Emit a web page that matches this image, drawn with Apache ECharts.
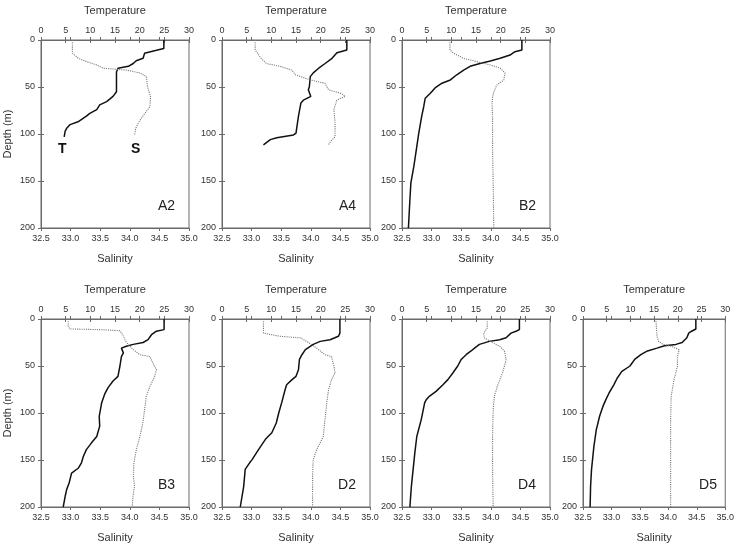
<!DOCTYPE html>
<html>
<head>
<meta charset="utf-8">
<script src="https://cdn.jsdelivr.net/npm/echarts@6/dist/echarts.min.js"></script>
<style>html,body{margin:0;padding:0;background:#fff;}#c{width:737px;height:544px;}</style>
</head>
<body>
<div id="c"></div>
<script>
// Tick values
const tempTicks = [0, 5, 10, 15, 20, 25, 30];
const salTicks = [32.5, 33.0, 33.5, 34.0, 34.5, 35.0];
const depthTicks = [0, 50, 100, 150, 200];
const panelNames = ['A2', 'A4', 'B2', 'B3', 'D2', 'D4', 'D5'];

// [temperature, depth]
const A2_T = [[24.9,0],[24.9,9],[23.4,11],[21.0,14],[20.7,19.5],[19.3,22],[18.7,25],[17.7,28],[15.6,30],[15.3,34],[15.3,42],[15.3,55],[14.6,60],[13.3,65.5],[11.9,69],[11.3,74],[9.9,78],[9.2,81],[7.5,87],[5.9,90],[5.5,92],[5.2,94],[4.9,97],[4.7,103]];
// [salinity, depth]
const A2_S = [[33.03,0],[33.03,14],[33.13,19.5],[33.27,23],[33.44,26.5],[33.55,30],[33.94,32],[34.17,35],[34.28,39],[34.30,50],[34.35,60],[34.34,71],[34.22,81],[34.14,88.5],[34.10,94],[34.08,101]];

const A4_T = [[25.3,0],[25.3,10.6],[23.3,13.5],[22.3,19.5],[20.9,25],[19.6,30],[18.5,35],[17.9,39],[17.7,50],[17.5,53],[18.0,60],[16.5,64],[16.0,67],[15.5,81],[15.0,99],[14.5,101],[11.1,104],[9.8,106],[8.4,111.5]];
const A4_S = [[33.06,0],[33.06,10.6],[33.16,19.5],[33.25,25],[33.48,28],[33.68,32],[33.74,37],[33.99,42.5],[34.24,46],[34.30,53],[34.52,57],[34.58,60],[34.44,64],[34.39,74],[34.41,88.5],[34.41,103],[34.33,108],[34.30,111.5]];

const B2_T = [[24.3,0],[24.3,10.6],[22.9,12.4],[21.9,16],[19.9,19.5],[17.9,22.3],[15.8,25],[13.8,28],[12.5,32],[11.1,37],[9.8,42.5],[8.1,46],[6.7,51],[5.7,57],[4.7,62],[4.4,71],[4.0,81],[3.4,99],[2.9,117],[2.4,134.5],[1.8,152],[1.6,170],[1.3,200]];
const B2_S = [[33.31,0],[33.31,10.6],[33.37,14],[33.54,19.5],[33.76,23],[33.99,26.5],[34.16,30],[34.24,35],[34.22,42.5],[34.10,48],[34.04,57],[34.02,67],[34.03,81],[34.03,117],[34.04,152],[34.05,200]];

const B3_T = [[24.95,0],[24.95,11.3],[23.4,13],[22.4,16.7],[21.7,22],[20.7,25],[18.7,27],[17.3,29],[16.3,31],[16.1,32.6],[16.7,36],[16.3,40],[16.0,50],[15.6,61],[14.6,66],[13.6,73],[12.9,80],[12.3,89],[11.8,103.5],[11.9,114],[11.3,125],[10.2,132],[9.2,139],[8.6,146],[8.2,153],[7.6,158.5],[6.2,164],[5.7,174.5],[5.2,181.5],[4.9,188.6],[4.5,200]];
const B3_S = [[32.96,0],[32.96,7.8],[32.99,10.6],[33.49,11.3],[33.83,12.4],[33.88,16.7],[33.93,23.8],[34.0,29],[34.06,32.6],[34.17,38],[34.34,40],[34.39,47],[34.45,54],[34.42,61],[34.34,71.6],[34.28,82],[34.25,96.5],[34.22,110.6],[34.17,125],[34.11,139],[34.07,153],[34.06,167],[34.08,178],[34.06,185],[34.04,200]];

const D2_T = [[23.9,0],[23.9,15],[23.6,18.4],[21.9,22],[19.9,23.8],[18.5,27],[16.9,32.6],[16.2,38],[15.7,43],[15.5,54],[15.0,61],[14.2,64.5],[13.1,70],[12.8,75],[12.1,89],[11.5,100],[11.0,110.6],[10.1,121],[8.8,128],[7.4,139],[6.1,149.6],[5.6,153],[4.7,160],[4.4,178],[3.7,200]];
const D2_S = [[33.20,0],[33.20,15],[33.23,16.7],[33.48,18.4],[33.82,20],[33.93,23.8],[34.10,31],[34.24,38],[34.35,40],[34.39,50],[34.41,57],[34.35,64.5],[34.30,75],[34.27,89],[34.24,107],[34.21,125],[34.10,139],[34.04,149.6],[34.03,167],[34.03,200]];

const D4_T = [[23.8,0],[23.8,11.3],[23.1,13],[22.1,15],[21.1,20],[19.8,22],[17.7,23.8],[15.7,27],[14.7,31],[14.0,34],[13.0,38],[12.0,43],[11.3,50],[10.3,57.4],[9.3,64.5],[8.3,70],[6.9,77],[5.6,82],[4.9,86],[4.6,89],[3.9,107],[3.0,125],[2.6,142.5],[1.9,178],[1.6,200]];
const D4_S = [[33.94,0],[33.94,9.6],[33.88,15],[33.89,20],[34.0,24],[34.15,29],[34.23,34],[34.26,43],[34.20,57],[34.12,70],[34.06,82],[34.04,96.5],[34.03,125],[34.03,160],[34.04,200]];

const D5_T = [[23.8,0],[23.8,10.6],[22.9,13],[22.3,15],[21.9,20],[20.9,25],[19.6,27],[17.2,28.4],[15.6,31],[13.6,34],[12.2,38],[10.9,43],[9.9,50],[8.2,55.7],[7.2,63],[6.5,70],[5.5,78.7],[4.8,86],[4.2,93],[3.5,103.5],[2.8,118],[2.3,135.5],[1.8,160],[1.6,178],[1.5,200]];
const D5_S = [[33.78,0],[33.80,18.4],[33.83,24],[33.91,27],[34.05,29],[34.19,32.6],[34.16,40],[34.16,50],[34.10,64.5],[34.05,82],[34.04,107],[34.04,142.5],[34.04,200]];

const tempSeries = [A2_T, A4_T, B2_T, B3_T, D2_T, D4_T, D5_T];
const salSeries = [A2_S, A4_S, B2_S, B3_S, D2_S, D4_S, D5_S];

// layout
const colLeft = [41, 222, 402, 583];
const rowTop = [40, 319];
const W = 148, H = 188;
const layout = [[0,0],[1,0],[2,0],[0,1],[1,1],[2,1],[3,1]];

const FONT = 'Liberation Sans, Arial, sans-serif';
const axisColor = '#6a6a6a';
const textColor = '#333';

const grids = [], xAxes = [], yAxes = [], series = [], graphics = [];
const extraX = [], extraY = [];
layout.forEach(([c, r], i) => {
  const left = colLeft[c], top = rowTop[r];
  grids.push({left: left, top: top, width: W, height: H, show: true, borderColor: axisColor, borderWidth: 1, backgroundColor: 'transparent'});
  const common = {
    type: 'value', gridIndex: i,
    axisLine: {show: true, onZero: false, lineStyle: {color: axisColor, width: 1}},
    axisTick: {show: true, inside: false, length: 3, lineStyle: {color: axisColor}},
    splitLine: {show: false},
    nameTextStyle: {fontFamily: FONT, fontSize: 11, color: textColor},
    nameLocation: 'middle'
  };
  const tempAx = {position: 'top', min: tempTicks[0], max: tempTicks[tempTicks.length-1], interval: tempTicks[1]-tempTicks[0]};
  const salAx = {position: 'bottom', min: salTicks[0], max: salTicks[salTicks.length-1], interval: 0.5};
  const depAx = {position: 'left', inverse: true, min: depthTicks[0], max: depthTicks[depthTicks.length-1], interval: depthTicks[1]-depthTicks[0]};
  xAxes.push(Object.assign({}, common, tempAx, {
    name: 'Temperature', nameGap: 24,
    axisLabel: {fontFamily: FONT, fontSize: 9, color: textColor, margin: 5}
  }));
  xAxes.push(Object.assign({}, common, salAx, {
    name: 'Salinity', nameGap: 25,
    axisLabel: {fontFamily: FONT, fontSize: 9, color: textColor, margin: 6, formatter: v => v.toFixed(1)}
  }));
  yAxes.push(Object.assign({}, common, depAx, {
    name: c === 0 ? 'Depth (m)' : '', nameGap: 28,
    axisLabel: {fontFamily: FONT, fontSize: 9, color: textColor, margin: 6}
  }));
  // inner half of crossing ticks
  const inner = {type: 'value', gridIndex: i, axisLine: {show: false}, axisLabel: {show: false},
    splitLine: {show: false}, axisTick: {show: true, inside: true, length: 3, lineStyle: {color: axisColor}}};
  extraX.push(Object.assign({}, inner, tempAx));
  extraX.push(Object.assign({}, inner, salAx));
  extraY.push(Object.assign({}, inner, depAx));
  series.push({
    type: 'line', xAxisIndex: 2*i, yAxisIndex: i, data: tempSeries[i],
    showSymbol: false, symbol: 'none', silent: true, animation: false,
    lineStyle: {color: '#111', width: 1.5}
  });
  series.push({
    type: 'line', xAxisIndex: 2*i+1, yAxisIndex: i, data: salSeries[i],
    showSymbol: false, symbol: 'none', silent: true, animation: false,
    lineStyle: {color: '#777', width: 1.1, type: 'dotted'}
  });
  graphics.push({
    type: 'text', right: 737 - (left + W - 14), top: top + H - 29,
    style: {text: panelNames[i], font: '14px ' + FONT, fill: '#222', textAlign: 'right'}
  });
});

graphics.push({type: 'text', left: colLeft[0] + 17, top: rowTop[0] + 102, style: {text: 'T', font: 'bold 14px ' + FONT, fill: '#111'}});
graphics.push({type: 'text', left: colLeft[0] + 90, top: rowTop[0] + 102, style: {text: 'S', font: 'bold 14px ' + FONT, fill: '#111'}});

const chart = echarts.init(document.getElementById('c'), null, {renderer: 'canvas'});
chart.setOption({
  animation: false,
  backgroundColor: '#fff',
  grid: grids, xAxis: xAxes.concat(extraX), yAxis: yAxes.concat(extraY), series: series, graphic: graphics
});
</script>
</body>
</html>
